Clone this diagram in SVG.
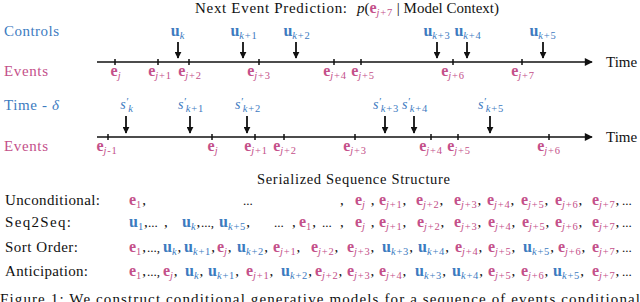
<svg xmlns="http://www.w3.org/2000/svg" width="640" height="302" viewBox="0 0 640 302">
<defs>
<style>
text{font-family:"Liberation Serif","Times New Roman",serif;fill:#111}
.lab{font-size:15px}
.pk,.pk tspan{fill:#c4508a}
.bl,.bl tspan{fill:#3d7bbf}
.b{font-weight:bold;font-size:16px}
.i{font-style:italic}
.sb{font-size:10.5px;letter-spacing:0.8px}
.tl{text-anchor:middle}
.sl{font-size:14px;text-anchor:middle}
.sq{font-size:15px}
.el{font-size:13px}
.k,.pk .k,.bl .k{fill:#111}
.axis{stroke:#111;stroke-width:1.5;fill:none}
.tick{stroke:#111;stroke-width:1.5}
.ctl{stroke:#111;stroke-width:1.8}
</style>
<marker id="ah" viewBox="0 0 10 10" refX="9" refY="5" markerWidth="9" markerHeight="8" markerUnits="userSpaceOnUse" orient="auto"><path d="M0,0 L10,5 L0,10 Z" fill="#111"/></marker>
<marker id="dh" viewBox="0 0 10 10" refX="9" refY="5" markerWidth="7" markerHeight="7" markerUnits="userSpaceOnUse" orient="auto"><path d="M0,0 L10,5 L0,10 Z" fill="#111"/></marker>
</defs>

<g id="title">
<text x="195" y="13" font-size="15" textLength="152" lengthAdjust="spacing">Next Event Prediction:</text>
<text x="357" y="13" font-size="15"><tspan class="i">p</tspan>(<tspan class="b pk">e</tspan><tspan class="sb pk" dy="3"><tspan class="i">j</tspan>+7</tspan><tspan dy="-3"> | Model Context)</tspan></text>
</g>

<g id="row-labels">
<text class="lab bl" x="4" y="36" textLength="55" lengthAdjust="spacing">Controls</text>
<text class="lab pk" x="4" y="76" textLength="44" lengthAdjust="spacing">Events</text>
<text class="lab bl" x="4" y="110" textLength="55" lengthAdjust="spacing">Time - <tspan class="i">δ</tspan></text>
<text class="lab pk" x="4" y="151" textLength="44" lengthAdjust="spacing">Events</text>
<text class="lab" x="606" y="67">Time</text>
<text class="lab" x="606" y="142">Time</text>
</g>

<g id="connectors">
<line class="axis" x1="97" y1="62" x2="592" y2="62" marker-end="url(#ah)"/>
<line class="axis" x1="97" y1="137" x2="592" y2="137" marker-end="url(#ah)"/>
<g class="tick">
<line x1="115" y1="59" x2="115" y2="65"/><line x1="158" y1="59" x2="158" y2="65"/><line x1="189" y1="59" x2="189" y2="65"/><line x1="259" y1="59" x2="259" y2="65"/><line x1="334" y1="59" x2="334" y2="65"/><line x1="361" y1="59" x2="361" y2="65"/><line x1="453" y1="59" x2="453" y2="65"/><line x1="522" y1="59" x2="522" y2="65"/>
<line x1="108" y1="134" x2="108" y2="140"/><line x1="212" y1="134" x2="212" y2="140"/><line x1="255" y1="134" x2="255" y2="140"/><line x1="284" y1="134" x2="284" y2="140"/><line x1="355" y1="134" x2="355" y2="140"/><line x1="431" y1="134" x2="431" y2="140"/><line x1="458" y1="134" x2="458" y2="140"/><line x1="549" y1="134" x2="549" y2="140"/>
</g>
<g class="ctl">
<line x1="178" y1="42" x2="178" y2="58" marker-end="url(#dh)"/><line x1="243" y1="42" x2="243" y2="58" marker-end="url(#dh)"/><line x1="296" y1="42" x2="296" y2="58" marker-end="url(#dh)"/><line x1="437" y1="42" x2="437" y2="58" marker-end="url(#dh)"/><line x1="467" y1="42" x2="467" y2="58" marker-end="url(#dh)"/><line x1="543" y1="42" x2="543" y2="58" marker-end="url(#dh)"/>
<line x1="126" y1="116" x2="126" y2="133" marker-end="url(#dh)"/><line x1="190" y1="116" x2="190" y2="133" marker-end="url(#dh)"/><line x1="247" y1="116" x2="247" y2="133" marker-end="url(#dh)"/><line x1="385" y1="116" x2="385" y2="133" marker-end="url(#dh)"/><line x1="414" y1="116" x2="414" y2="133" marker-end="url(#dh)"/><line x1="490" y1="116" x2="490" y2="133" marker-end="url(#dh)"/>
</g>
</g>

<g id="events-1">
<text class="tl pk" x="116" y="76"><tspan class="b">e</tspan><tspan class="sb i" dy="3">j</tspan></text>
<text class="tl pk" x="160" y="76"><tspan class="b">e</tspan><tspan class="sb" dy="3"><tspan class="i">j</tspan>+1</tspan></text>
<text class="tl pk" x="190" y="76"><tspan class="b">e</tspan><tspan class="sb" dy="3"><tspan class="i">j</tspan>+2</tspan></text>
<text class="tl pk" x="259" y="76"><tspan class="b">e</tspan><tspan class="sb" dy="3"><tspan class="i">j</tspan>+3</tspan></text>
<text class="tl pk" x="335" y="76"><tspan class="b">e</tspan><tspan class="sb" dy="3"><tspan class="i">j</tspan>+4</tspan></text>
<text class="tl pk" x="363" y="76"><tspan class="b">e</tspan><tspan class="sb" dy="3"><tspan class="i">j</tspan>+5</tspan></text>
<text class="tl pk" x="453" y="76"><tspan class="b">e</tspan><tspan class="sb" dy="3"><tspan class="i">j</tspan>+6</tspan></text>
<text class="tl pk" x="523" y="76"><tspan class="b">e</tspan><tspan class="sb" dy="3"><tspan class="i">j</tspan>+7</tspan></text>
</g>

<g id="controls-1">
<text class="tl bl" x="178" y="36"><tspan class="b">u</tspan><tspan class="sb i" dy="3">k</tspan></text>
<text class="tl bl" x="244" y="36"><tspan class="b">u</tspan><tspan class="sb" dy="3"><tspan class="i">k</tspan>+1</tspan></text>
<text class="tl bl" x="297" y="36"><tspan class="b">u</tspan><tspan class="sb" dy="3"><tspan class="i">k</tspan>+2</tspan></text>
<text class="tl bl" x="437" y="36"><tspan class="b">u</tspan><tspan class="sb" dy="3"><tspan class="i">k</tspan>+3</tspan></text>
<text class="tl bl" x="468" y="36"><tspan class="b">u</tspan><tspan class="sb" dy="3"><tspan class="i">k</tspan>+4</tspan></text>
<text class="tl bl" x="543" y="36"><tspan class="b">u</tspan><tspan class="sb" dy="3"><tspan class="i">k</tspan>+5</tspan></text>
</g>

<g id="shifted-2">
<text class="sl bl" x="127" y="109"><tspan class="i">s</tspan><tspan class="i" dy="-4" font-size="11">′</tspan><tspan class="sb i" dy="7">k</tspan></text>
<text class="sl bl" x="191" y="109"><tspan class="i">s</tspan><tspan class="i" dy="-4" font-size="11">′</tspan><tspan class="sb" dy="7"><tspan class="i">k</tspan>+1</tspan></text>
<text class="sl bl" x="248" y="109"><tspan class="i">s</tspan><tspan class="i" dy="-4" font-size="11">′</tspan><tspan class="sb" dy="7"><tspan class="i">k</tspan>+2</tspan></text>
<text class="sl bl" x="386" y="109"><tspan class="i">s</tspan><tspan class="i" dy="-4" font-size="11">′</tspan><tspan class="sb" dy="7"><tspan class="i">k</tspan>+3</tspan></text>
<text class="sl bl" x="415" y="109"><tspan class="i">s</tspan><tspan class="i" dy="-4" font-size="11">′</tspan><tspan class="sb" dy="7"><tspan class="i">k</tspan>+4</tspan></text>
<text class="sl bl" x="491" y="109"><tspan class="i">s</tspan><tspan class="i" dy="-4" font-size="11">′</tspan><tspan class="sb" dy="7"><tspan class="i">k</tspan>+5</tspan></text>
</g>

<g id="events-2">
<text class="tl pk" x="107" y="151"><tspan class="b">e</tspan><tspan class="sb" dy="3"><tspan class="i">j</tspan>-1</tspan></text>
<text class="tl pk" x="213" y="151"><tspan class="b">e</tspan><tspan class="sb i" dy="3">j</tspan></text>
<text class="tl pk" x="256" y="151"><tspan class="b">e</tspan><tspan class="sb" dy="3"><tspan class="i">j</tspan>+1</tspan></text>
<text class="tl pk" x="285" y="151"><tspan class="b">e</tspan><tspan class="sb" dy="3"><tspan class="i">j</tspan>+2</tspan></text>
<text class="tl pk" x="355" y="151"><tspan class="b">e</tspan><tspan class="sb" dy="3"><tspan class="i">j</tspan>+3</tspan></text>
<text class="tl pk" x="431" y="151"><tspan class="b">e</tspan><tspan class="sb" dy="3"><tspan class="i">j</tspan>+4</tspan></text>
<text class="tl pk" x="459" y="151"><tspan class="b">e</tspan><tspan class="sb" dy="3"><tspan class="i">j</tspan>+5</tspan></text>
<text class="tl pk" x="549" y="151"><tspan class="b">e</tspan><tspan class="sb" dy="3"><tspan class="i">j</tspan>+6</tspan></text>
</g>

<g id="serialized">
<text x="257" y="184" font-size="14.5" textLength="193" lengthAdjust="spacing">Serialized Sequence Structure</text>
<text class="lab" x="5" y="205" textLength="95" lengthAdjust="spacing">Unconditional:</text>
<text class="lab" x="5" y="227" textLength="66" lengthAdjust="spacing">Seq2Seq:</text>
<text class="lab" x="5" y="252" textLength="73" lengthAdjust="spacing">Sort Order:</text>
<text class="lab" x="5" y="276" textLength="83" lengthAdjust="spacing">Anticipation:</text>
</g>

<g id="seq-unconditional">
<text class="sq pk" x="129" y="205"><tspan class="b">e</tspan><tspan class="sb" dy="3">1</tspan><tspan class="k" dy="-3">,</tspan></text>
<text class="el" x="243" y="205">...</text>
<text class="sq" x="340" y="205">,</text>
<text class="sq pk" x="355" y="205"><tspan class="b">e</tspan><tspan class="sb i" dy="3">j</tspan><tspan class="k" dy="-3" dx="5">,</tspan></text>
<text class="sq pk" x="379" y="205"><tspan class="b">e</tspan><tspan class="sb" dy="3"><tspan class="i">j</tspan>+1</tspan><tspan class="k" dy="-3">,</tspan></text>
<text class="sq pk" x="416" y="205"><tspan class="b">e</tspan><tspan class="sb" dy="3"><tspan class="i">j</tspan>+2</tspan><tspan class="k" dy="-3">,</tspan></text>
<text class="sq pk" x="454" y="205"><tspan class="b">e</tspan><tspan class="sb" dy="3"><tspan class="i">j</tspan>+3</tspan><tspan class="k" dy="-3">,</tspan></text>
<text class="sq pk" x="487" y="205"><tspan class="b">e</tspan><tspan class="sb" dy="3"><tspan class="i">j</tspan>+4</tspan><tspan class="k" dy="-3">,</tspan></text>
<text class="sq pk" x="521" y="205"><tspan class="b">e</tspan><tspan class="sb" dy="3"><tspan class="i">j</tspan>+5</tspan><tspan class="k" dy="-3">,</tspan></text>
<text class="sq pk" x="555" y="205"><tspan class="b">e</tspan><tspan class="sb" dy="3"><tspan class="i">j</tspan>+6</tspan><tspan class="k" dy="-3">,</tspan></text>
<text class="sq pk" x="592" y="205"><tspan class="b">e</tspan><tspan class="sb" dy="3"><tspan class="i">j</tspan>+7</tspan><tspan class="k" dy="-3">,</tspan></text>
<text class="el" x="622" y="205">...</text>
</g>

<g id="seq-seq2seq">
<text class="sq bl" x="129" y="227"><tspan class="b">u</tspan><tspan class="sb" dy="3">1</tspan><tspan class="k" dy="-3">,</tspan></text>
<text class="el" x="148" y="227">...</text>
<text class="sq" x="164" y="227">,</text>
<text class="sq bl" x="182" y="227"><tspan class="b">u</tspan><tspan class="sb i" dy="3">k</tspan><tspan class="k" dy="-3">,</tspan></text>
<text class="el" x="201" y="227">...,</text>
<text class="sq bl" x="219" y="227"><tspan class="b">u</tspan><tspan class="sb" dy="3"><tspan class="i">k</tspan>+5</tspan><tspan class="k" dy="-3">,</tspan></text>
<text class="el" x="274" y="227">...</text>
<text class="sq" x="292" y="227">,</text>
<text class="sq pk" x="299" y="227"><tspan class="b">e</tspan><tspan class="sb" dy="3">1</tspan><tspan class="k" dy="-3">,</tspan></text>
<text class="el" x="322" y="227">...</text>
<text class="sq" x="340" y="227">,</text>
<text class="sq pk" x="355" y="227"><tspan class="b">e</tspan><tspan class="sb i" dy="3">j</tspan><tspan class="k" dy="-3" dx="5">,</tspan></text>
<text class="sq pk" x="379" y="227"><tspan class="b">e</tspan><tspan class="sb" dy="3"><tspan class="i">j</tspan>+1</tspan><tspan class="k" dy="-3">,</tspan></text>
<text class="sq pk" x="417" y="227"><tspan class="b">e</tspan><tspan class="sb" dy="3"><tspan class="i">j</tspan>+2</tspan><tspan class="k" dy="-3">,</tspan></text>
<text class="sq pk" x="454" y="227"><tspan class="b">e</tspan><tspan class="sb" dy="3"><tspan class="i">j</tspan>+3</tspan><tspan class="k" dy="-3">,</tspan></text>
<text class="sq pk" x="488" y="227"><tspan class="b">e</tspan><tspan class="sb" dy="3"><tspan class="i">j</tspan>+4</tspan><tspan class="k" dy="-3">,</tspan></text>
<text class="sq pk" x="522" y="227"><tspan class="b">e</tspan><tspan class="sb" dy="3"><tspan class="i">j</tspan>+5</tspan><tspan class="k" dy="-3">,</tspan></text>
<text class="sq pk" x="555" y="227"><tspan class="b">e</tspan><tspan class="sb" dy="3"><tspan class="i">j</tspan>+6</tspan><tspan class="k" dy="-3">,</tspan></text>
<text class="sq pk" x="592" y="227"><tspan class="b">e</tspan><tspan class="sb" dy="3"><tspan class="i">j</tspan>+7</tspan><tspan class="k" dy="-3">,</tspan></text>
<text class="el" x="622" y="227">...</text>
</g>

<g id="seq-sort-order">
<text class="sq pk" x="129" y="252"><tspan class="b">e</tspan><tspan class="sb" dy="3">1</tspan><tspan class="k" dy="-3">,</tspan></text>
<text class="el" x="147" y="252">...,</text>
<text class="sq bl" x="163" y="252"><tspan class="b">u</tspan><tspan class="sb i" dy="3">k</tspan><tspan class="k" dy="-3">,</tspan></text>
<text class="sq bl" x="184" y="252"><tspan class="b">u</tspan><tspan class="sb" dy="3"><tspan class="i">k</tspan>+1</tspan><tspan class="k" dy="-3">,</tspan></text>
<text class="sq pk" x="217" y="252"><tspan class="b">e</tspan><tspan class="sb i" dy="3">j</tspan><tspan class="k" dy="-3">,</tspan></text>
<text class="sq bl" x="237" y="252"><tspan class="b">u</tspan><tspan class="sb" dy="3"><tspan class="i">k</tspan>+2</tspan><tspan class="k" dy="-3">,</tspan></text>
<text class="sq pk" x="273" y="252"><tspan class="b">e</tspan><tspan class="sb" dy="3"><tspan class="i">j</tspan>+1</tspan><tspan class="k" dy="-3">,</tspan></text>
<text class="sq pk" x="311" y="252"><tspan class="b">e</tspan><tspan class="sb" dy="3"><tspan class="i">j</tspan>+2</tspan><tspan class="k" dy="-3">,</tspan></text>
<text class="sq pk" x="347" y="252"><tspan class="b">e</tspan><tspan class="sb" dy="3"><tspan class="i">j</tspan>+3</tspan><tspan class="k" dy="-3">,</tspan></text>
<text class="sq bl" x="382" y="252"><tspan class="b">u</tspan><tspan class="sb" dy="3"><tspan class="i">k</tspan>+3</tspan><tspan class="k" dy="-3">,</tspan></text>
<text class="sq bl" x="418" y="252"><tspan class="b">u</tspan><tspan class="sb" dy="3"><tspan class="i">k</tspan>+4</tspan><tspan class="k" dy="-3">,</tspan></text>
<text class="sq pk" x="455" y="252"><tspan class="b">e</tspan><tspan class="sb" dy="3"><tspan class="i">j</tspan>+4</tspan><tspan class="k" dy="-3">,</tspan></text>
<text class="sq pk" x="488" y="252"><tspan class="b">e</tspan><tspan class="sb" dy="3"><tspan class="i">j</tspan>+5</tspan><tspan class="k" dy="-3">,</tspan></text>
<text class="sq bl" x="523" y="252"><tspan class="b">u</tspan><tspan class="sb" dy="3"><tspan class="i">k</tspan>+5</tspan><tspan class="k" dy="-3">,</tspan></text>
<text class="sq pk" x="558" y="252"><tspan class="b">e</tspan><tspan class="sb" dy="3"><tspan class="i">j</tspan>+6</tspan><tspan class="k" dy="-3">,</tspan></text>
<text class="sq pk" x="592" y="252"><tspan class="b">e</tspan><tspan class="sb" dy="3"><tspan class="i">j</tspan>+7</tspan><tspan class="k" dy="-3">,</tspan></text>
<text class="el" x="622" y="252">...</text>
</g>

<g id="seq-anticipation">
<text class="sq pk" x="129" y="276"><tspan class="b">e</tspan><tspan class="sb" dy="3">1</tspan><tspan class="k" dy="-3">,</tspan></text>
<text class="el" x="147" y="276">...,</text>
<text class="sq pk" x="163" y="276"><tspan class="b">e</tspan><tspan class="sb i" dy="3">j</tspan><tspan class="k" dy="-3">,</tspan></text>
<text class="sq bl" x="185" y="276"><tspan class="b">u</tspan><tspan class="sb i" dy="3">k</tspan><tspan class="k" dy="-3">,</tspan></text>
<text class="sq bl" x="208" y="276"><tspan class="b">u</tspan><tspan class="sb" dy="3"><tspan class="i">k</tspan>+1</tspan><tspan class="k" dy="-3">,</tspan></text>
<text class="sq pk" x="246" y="276"><tspan class="b">e</tspan><tspan class="sb" dy="3"><tspan class="i">j</tspan>+1</tspan><tspan class="k" dy="-3">,</tspan></text>
<text class="sq bl" x="281" y="276"><tspan class="b">u</tspan><tspan class="sb" dy="3"><tspan class="i">k</tspan>+2</tspan><tspan class="k" dy="-3">,</tspan></text>
<text class="sq pk" x="315" y="276"><tspan class="b">e</tspan><tspan class="sb" dy="3"><tspan class="i">j</tspan>+2</tspan><tspan class="k" dy="-3">,</tspan></text>
<text class="sq pk" x="347" y="276"><tspan class="b">e</tspan><tspan class="sb" dy="3"><tspan class="i">j</tspan>+3</tspan><tspan class="k" dy="-3">,</tspan></text>
<text class="sq pk" x="379" y="276"><tspan class="b">e</tspan><tspan class="sb" dy="3"><tspan class="i">j</tspan>+4</tspan><tspan class="k" dy="-3">,</tspan></text>
<text class="sq bl" x="415" y="276"><tspan class="b">u</tspan><tspan class="sb" dy="3"><tspan class="i">k</tspan>+3</tspan><tspan class="k" dy="-3">,</tspan></text>
<text class="sq bl" x="452" y="276"><tspan class="b">u</tspan><tspan class="sb" dy="3"><tspan class="i">k</tspan>+4</tspan><tspan class="k" dy="-3">,</tspan></text>
<text class="sq pk" x="488" y="276"><tspan class="b">e</tspan><tspan class="sb" dy="3"><tspan class="i">j</tspan>+5</tspan><tspan class="k" dy="-3">,</tspan></text>
<text class="sq pk" x="521" y="276"><tspan class="b">e</tspan><tspan class="sb" dy="3"><tspan class="i">j</tspan>+6</tspan><tspan class="k" dy="-3">,</tspan></text>
<text class="sq bl" x="553" y="276"><tspan class="b">u</tspan><tspan class="sb" dy="3"><tspan class="i">k</tspan>+5</tspan><tspan class="k" dy="-3">,</tspan></text>
<text class="sq pk" x="592" y="276"><tspan class="b">e</tspan><tspan class="sb" dy="3"><tspan class="i">j</tspan>+7</tspan><tspan class="k" dy="-3">,</tspan></text>
<text class="el" x="622" y="276">...</text>
</g>

<g id="caption">
<text x="0" y="304" font-size="15" textLength="640" lengthAdjust="spacing">Figure 1: We construct conditional generative models for a sequence of events conditional</text>
</g>
</svg>
